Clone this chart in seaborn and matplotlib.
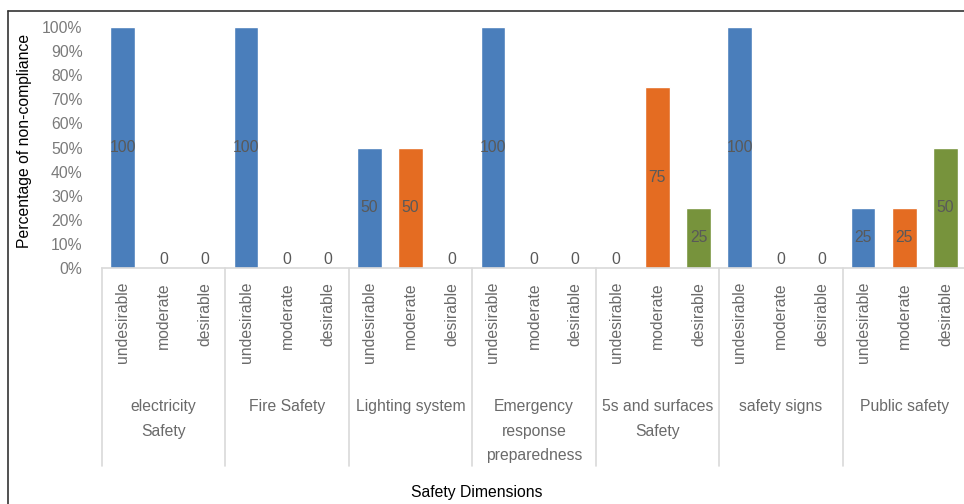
import matplotlib
matplotlib.use("Agg")
import matplotlib.pyplot as plt
import matplotlib.transforms as mtransforms
from matplotlib.lines import Line2D
import seaborn as sns
import pandas as pd

groups = ["electricity\nSafety", "Fire Safety", "Lighting system",
          "Emergency\nresponse\npreparedness", "5s and surfaces\nSafety",
          "safety signs", "Public safety"]
levels = ["undesirable", "moderate", "desirable"]
undesirable = [100, 100, 50, 100, 0, 100, 25]
moderate = [0, 0, 50, 0, 75, 0, 25]
desirable = [0, 0, 0, 0, 25, 0, 50]
yticks = [0, 10, 20, 30, 40, 50, 60, 70, 80, 90, 100]

colors = {"undesirable": "#4A7EBB", "moderate": "#E46C22", "desirable": "#77933C"}

rows = []
series = {"undesirable": undesirable, "moderate": moderate, "desirable": desirable}
for gi, g in enumerate(groups):
    for lv in levels:
        rows.append({"key": f"{gi}|{lv}", "group": g, "level": lv,
                     "value": series[lv][gi]})
df = pd.DataFrame(rows)
order = list(df["key"])

sns.set_style("white")
plt.rcParams["font.family"] = ["Liberation Sans", "DejaVu Sans"]

FS = 11.3
TXT = "#6A6A6A"
W, H = 964, 504
fig = plt.figure(figsize=(W / 100, H / 100), dpi=100)
ax_left, ax_right, ax_top, ax_bottom = 102, 966, 27, 268
ax = fig.add_axes([ax_left / W, 1 - ax_bottom / H, (ax_right - ax_left) / W,
                   (ax_bottom - ax_top) / H])

sns.barplot(data=df, x="key", y="value", hue="level", order=order,
            hue_order=levels, palette=colors, dodge=False, width=0.6,
            legend=False, ax=ax, saturation=1)

ax.set_xlim(-0.5, len(order) - 0.5)
ax.set_ylim(0, 100)
ax.set_yticks(yticks)
ax.set_yticklabels([f"{v}%" for v in yticks], color="#7A7A7A", fontsize=FS)
ax.tick_params(axis="y", length=0, pad=14)
ax.set_xticks(range(len(order)))
ax.set_xticklabels(list(df["level"]), rotation=90, color=TXT, fontsize=FS)
ax.tick_params(axis="x", length=0, pad=10)
ax.set_xlabel("")
ax.set_ylabel("")
for s in ["top", "right", "left"]:
    ax.spines[s].set_visible(False)
ax.spines["bottom"].set_color("#D9D9D9")
ax.spines["bottom"].set_linewidth(1.2)

# data labels
for i, v in enumerate(df["value"]):
    if v == 0:
        ax.text(i, 0.5, "0", ha="center", va="bottom", color="#595959", fontsize=FS)
    else:
        ax.text(i, v / 2, f"{v}", ha="center", va="center", color="#595959", fontsize=FS)

# group separators and labels
trans = mtransforms.blended_transform_factory(ax.transData, ax.transAxes)
sep_bottom = -(466 - ax_bottom) / (ax_bottom - ax_top)
for k in range(len(groups) + 1):
    x = k * 3 - 0.5
    ax.add_line(Line2D([x, x], [0, sep_bottom], transform=trans, color="#D9D9D9",
                       lw=1.2, clip_on=False))
label_top = -(399 - ax_bottom) / (ax_bottom - ax_top)
for gi, g in enumerate(groups):
    ax.text(gi * 3 + 1, label_top, g, transform=trans, ha="center", va="top",
            color=TXT, fontsize=FS, linespacing=1.8, clip_on=False)

fig.text(25 / W, 1 - 141 / H, "Percentage of non-compliance", rotation=90,
         ha="center", va="center", fontsize=FS, color="black")
fig.text(477 / W, 1 - 493 / H, "Safety Dimensions", ha="center", va="center",
         fontsize=FS, color="black")

# outer border
fig.add_artist(Line2D([8 / W, 1], [1 - 10.5 / H, 1 - 10.5 / H],
                      transform=fig.transFigure, color="#333333", lw=1.2))
fig.add_artist(Line2D([8 / W, 8 / W], [0, 1 - 10.5 / H],
                      transform=fig.transFigure, color="#333333", lw=1.2))

fig.savefig("out.png", dpi=100, facecolor="white")
